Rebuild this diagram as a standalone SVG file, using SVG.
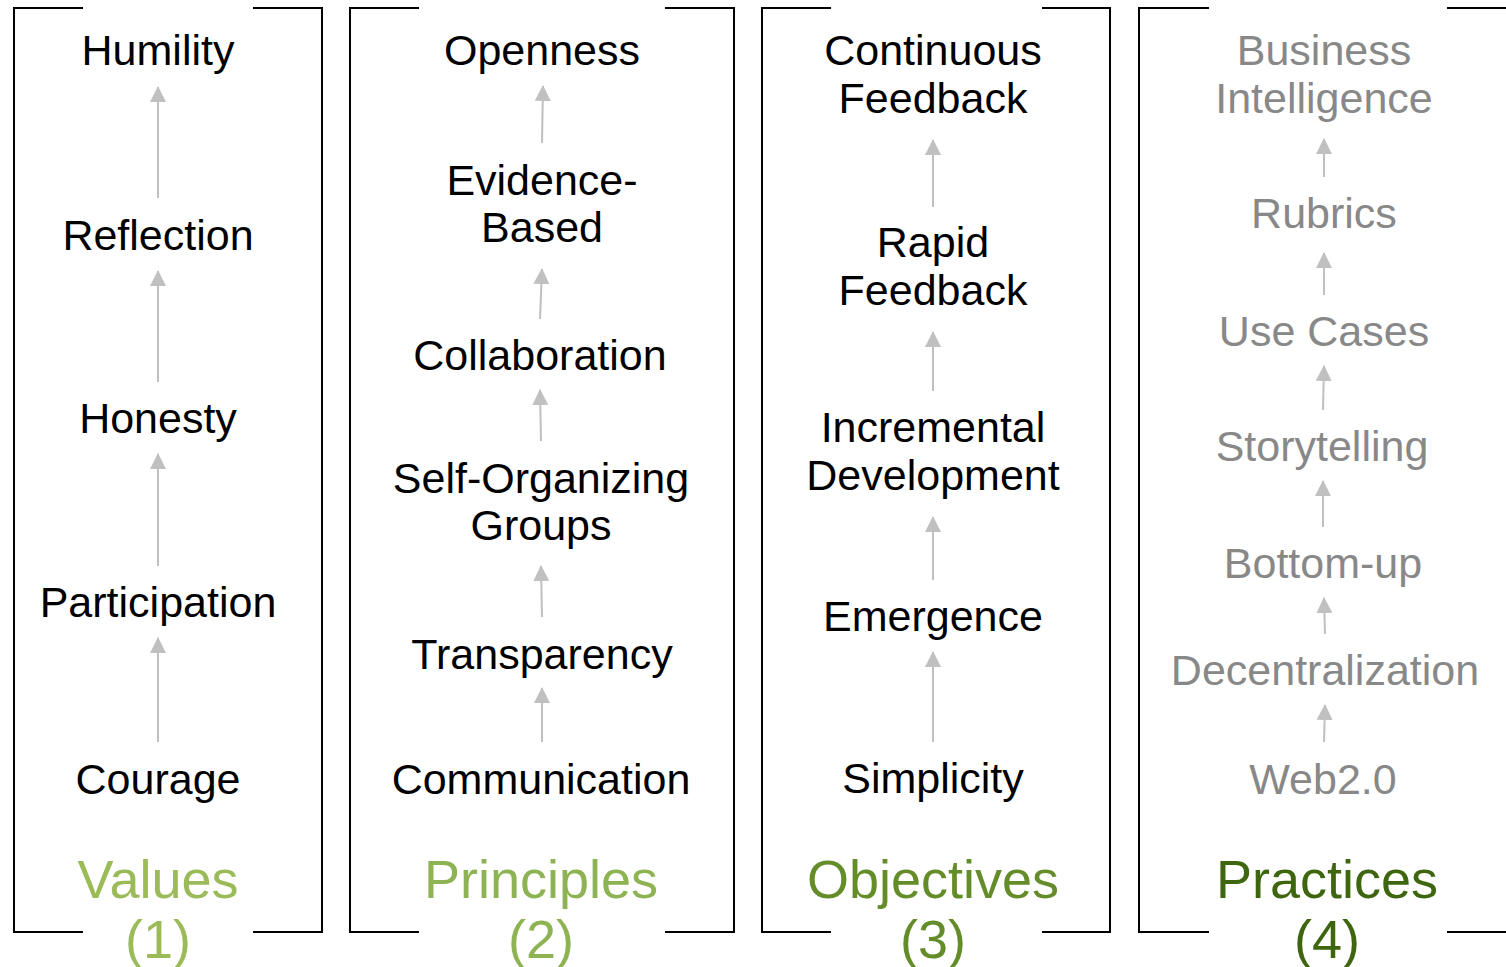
<svg xmlns="http://www.w3.org/2000/svg" width="1506" height="967" viewBox="0 0 1506 967">
<style>
.frame{fill:none;stroke:#000;stroke-width:2}
.n{font-family:"Liberation Sans",Arial,sans-serif;font-size:43px;text-anchor:middle;fill:#000}
.g{fill:#888888}
.t{font-family:"Liberation Sans",Arial,sans-serif;font-size:54px;text-anchor:middle}
.c{stroke:#c0c0c0;stroke-width:2;fill:none;marker-end:url(#ah)}
</style>
<defs>
<marker id="ah" markerUnits="userSpaceOnUse" markerWidth="16" markerHeight="16" viewBox="0 0 16 16" refX="15" refY="8" orient="auto">
<path d="M0,0 L16,8 L0,16 Z" fill="#c0c0c0"/>
</marker>
</defs>
<g id="frames">
<path class="frame" d="M83,8 H14 V932 H83 M253,8 H322 V932 H253"/>
<path class="frame" d="M419,8 H350 V932 H419 M665,8 H734 V932 H665"/>
<path class="frame" d="M831,8 H762 V932 H831 M1042,8 H1110 V932 H1042"/>
<path class="frame" d="M1209,8 H1139 V932 H1209 M1447,8 H1510 M1447,932 H1510"/>
</g>
<g id="connectors">
<line class="c" x1="158" y1="198" x2="158" y2="87"/>
<line class="c" x1="158" y1="382" x2="158" y2="271"/>
<line class="c" x1="158" y1="566" x2="158" y2="454"/>
<line class="c" x1="158" y1="742" x2="158" y2="638"/>
<line class="c" x1="542" y1="143" x2="543" y2="86"/>
<line class="c" x1="540" y1="319" x2="542" y2="269"/>
<line class="c" x1="541" y1="441" x2="540" y2="390"/>
<line class="c" x1="542" y1="617" x2="541" y2="566"/>
<line class="c" x1="542" y1="742" x2="542" y2="688"/>
<line class="c" x1="933" y1="207" x2="933" y2="140"/>
<line class="c" x1="933" y1="391" x2="933" y2="332"/>
<line class="c" x1="933" y1="580" x2="933" y2="517"/>
<line class="c" x1="933" y1="742" x2="933" y2="652"/>
<line class="c" x1="1324" y1="177" x2="1324" y2="139"/>
<line class="c" x1="1324" y1="295" x2="1324" y2="253"/>
<line class="c" x1="1323" y1="410" x2="1324" y2="366"/>
<line class="c" x1="1323" y1="527" x2="1323" y2="481"/>
<line class="c" x1="1325" y1="634" x2="1324" y2="598"/>
<line class="c" x1="1324" y1="742" x2="1325" y2="705"/>
</g>
<g id="col1">
<g id="humility"><text class="n" x="158" y="65">Humility</text></g>
<g id="reflection"><text class="n" x="158" y="250">Reflection</text></g>
<g id="honesty"><text class="n" x="158" y="433">Honesty</text></g>
<g id="participation"><text class="n" x="158" y="617">Participation</text></g>
<g id="courage"><text class="n" x="158" y="794">Courage</text></g>
<g id="values"><text class="t" x="158" y="898" fill="#9bbb59">Values</text><text class="t" x="158" y="958" fill="#9bbb59">(1)</text></g>
</g>
<g id="col2">
<g id="openness"><text class="n" x="542" y="65">Openness</text></g>
<g id="evidence"><text class="n" x="542" y="195">Evidence-</text><text class="n" x="542" y="242">Based</text></g>
<g id="collaboration"><text class="n" x="540" y="370">Collaboration</text></g>
<g id="selforg"><text class="n" x="541" y="493">Self-Organizing</text><text class="n" x="541" y="540">Groups</text></g>
<g id="transparency"><text class="n" x="542" y="669">Transparency</text></g>
<g id="communication"><text class="n" x="541" y="794">Communication</text></g>
<g id="principles"><text class="t" x="541" y="898" fill="#8db352">Principles</text><text class="t" x="541" y="958" fill="#8db352">(2)</text></g>
</g>
<g id="col3">
<g id="continuous"><text class="n" x="933" y="65">Continuous</text><text class="n" x="933" y="113">Feedback</text></g>
<g id="rapid"><text class="n" x="933" y="257">Rapid</text><text class="n" x="933" y="305">Feedback</text></g>
<g id="incremental"><text class="n" x="933" y="442">Incremental</text><text class="n" x="933" y="490">Development</text></g>
<g id="emergence"><text class="n" x="933" y="631">Emergence</text></g>
<g id="simplicity"><text class="n" x="933" y="793">Simplicity</text></g>
<g id="objectives"><text class="t" x="933" y="898" fill="#648d2a">Objectives</text><text class="t" x="933" y="958" fill="#648d2a">(3)</text></g>
</g>
<g id="col4">
<g id="bi"><text class="n g" x="1324" y="65">Business</text><text class="n g" x="1324" y="113">Intelligence</text></g>
<g id="rubrics"><text class="n g" x="1324" y="228">Rubrics</text></g>
<g id="usecases"><text class="n g" x="1324" y="346">Use Cases</text></g>
<g id="storytelling"><text class="n g" x="1322" y="461">Storytelling</text></g>
<g id="bottomup"><text class="n g" x="1323" y="578">Bottom-up</text></g>
<g id="decentralization"><text class="n g" x="1325" y="685">Decentralization</text></g>
<g id="web20"><text class="n g" x="1323" y="794">Web2.0</text></g>
<g id="practices"><text class="t" x="1327" y="898" fill="#3e660f">Practices</text><text class="t" x="1327" y="958" fill="#3e660f">(4)</text></g>
</g>
</svg>
